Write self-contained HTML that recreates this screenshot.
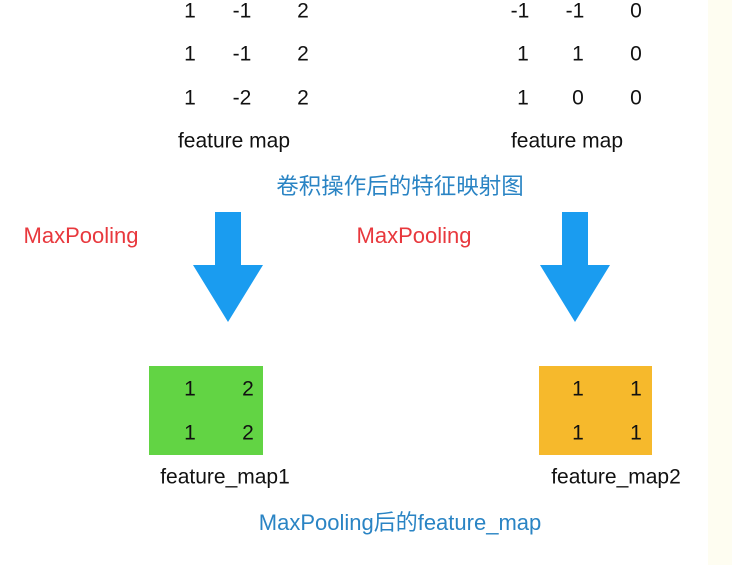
<!DOCTYPE html>
<html><head><meta charset="utf-8"><style>
html,body{margin:0;padding:0}
body{width:732px;height:565px;position:relative;background:#fff;overflow:hidden;font-family:"Liberation Sans","Noto Sans CJK SC",sans-serif;color:#111}
.t{position:absolute;transform:translate(-50%,-50%);white-space:nowrap;font-size:21px;line-height:1}
.r{color:#e8383d;font-size:22px}
.b{color:#2a84c4;font-size:22px}
.box{position:absolute}
</style></head><body>
<div style="position:absolute;left:708px;top:0;width:24px;height:565px;background:#fefdf1"></div>

<div class="t" style="left:190px;top:11px">1</div><div class="t" style="left:242px;top:11px">-1</div><div class="t" style="left:303px;top:11px">2</div>
<div class="t" style="left:190px;top:54px">1</div><div class="t" style="left:242px;top:54px">-1</div><div class="t" style="left:303px;top:54px">2</div>
<div class="t" style="left:190px;top:98px">1</div><div class="t" style="left:242px;top:98px">-2</div><div class="t" style="left:303px;top:98px">2</div>

<div class="t" style="left:520px;top:11px">-1</div><div class="t" style="left:575px;top:11px">-1</div><div class="t" style="left:636px;top:11px">0</div>
<div class="t" style="left:523px;top:54px">1</div><div class="t" style="left:578px;top:54px">1</div><div class="t" style="left:636px;top:54px">0</div>
<div class="t" style="left:523px;top:98px">1</div><div class="t" style="left:578px;top:98px">0</div><div class="t" style="left:636px;top:98px">0</div>

<div class="t" style="left:234px;top:141px">feature map</div>
<div class="t" style="left:567px;top:141px">feature map</div>
<div class="t b" style="left:400px;top:187px;font-size:22.5px">卷积操作后的特征映射图</div>

<div class="t r" style="left:81px;top:236px">MaxPooling</div>
<div class="t r" style="left:414px;top:236px">MaxPooling</div>

<svg width="732" height="565" style="position:absolute;left:0;top:0">
<polygon points="215,212 241,212 241,265 263,265 228,322 193,265 215,265" fill="#1a9cf0"/>
<polygon points="562,212 588,212 588,265 610,265 575,322 540,265 562,265" fill="#1a9cf0"/>
</svg>

<div class="box" style="left:149px;top:366px;width:114px;height:89px;background:#62d444"></div>
<div class="box" style="left:539px;top:366px;width:113px;height:89px;background:#f6b92c"></div>
<div class="t" style="left:190px;top:389px">1</div><div class="t" style="left:248px;top:389px">2</div>
<div class="t" style="left:190px;top:433px">1</div><div class="t" style="left:248px;top:433px">2</div>
<div class="t" style="left:578px;top:389px">1</div><div class="t" style="left:636px;top:389px">1</div>
<div class="t" style="left:578px;top:433px">1</div><div class="t" style="left:636px;top:433px">1</div>

<div class="t" style="left:225px;top:477px">feature_map1</div>
<div class="t" style="left:616px;top:477px">feature_map2</div>
<div class="t b" style="left:400px;top:523px">MaxPooling后的feature_map</div>
</body></html>
